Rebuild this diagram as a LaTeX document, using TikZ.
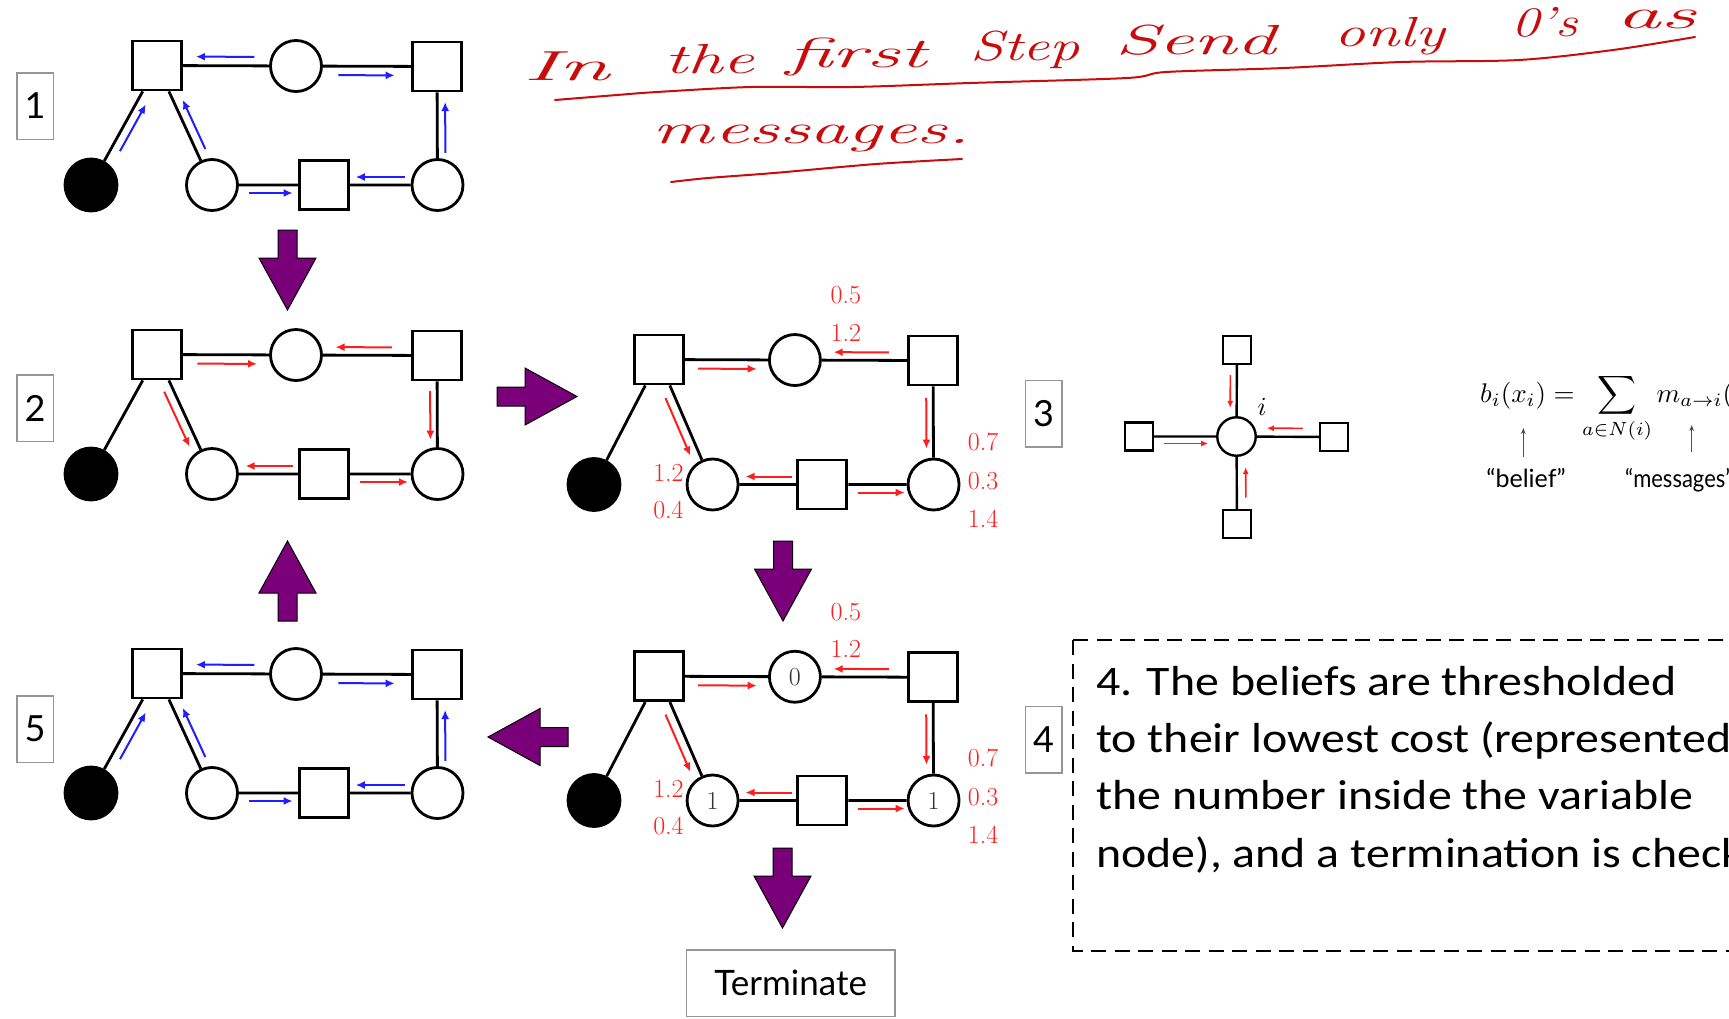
\documentclass[tikz,border=0pt]{standalone}
\usepackage{fontspec}
\usepackage{graphicx}
\usetikzlibrary{arrows.meta,calc}

\newfontfamily\sansfam{Lato}
\newfontfamily\calfam{Carlito}

\definecolor{msgblue}{RGB}{30,30,255}
\definecolor{msgred}{RGB}{255,30,30}
\definecolor{inkred}{RGB}{200,12,12}
\definecolor{steppurple}{RGB}{122,0,122}
\definecolor{framegray}{RGB}{150,150,150}

\newcommand{\fsz}[1]{\fontsize{#1}{#1}\selectfont}

\tikzset{
  fac/.style={draw, line width=2.8pt, fill=white, minimum size=49pt, inner sep=0pt},
  var/.style={circle, draw, line width=2.8pt, fill=white, minimum size=51pt, inner sep=0pt,
    font=\fsz{26}, text=black!80},
  obs/.style={circle, draw, line width=2.8pt, fill=black, minimum size=52pt, inner sep=0pt},
  edge/.style={line width=2.8pt},
  bluemsg/.style={draw=msgblue, line width=2pt, -{Latex[length=9pt,width=8pt]}},
  redmsg/.style={draw=msgred, line width=2pt, -{Latex[length=9pt,width=8pt]}},
  val/.style={text=msgred, font=\fsz{26}, inner sep=0pt},
  numbox/.style={draw=framegray, line width=1.5pt, fill=white, minimum width=36.5pt,
    minimum height=66.5pt, inner sep=0pt, font=\sansfam\fsz{36}},
  sfac/.style={draw, line width=2.4pt, fill=white, minimum size=28pt, inner sep=0pt},
  svar/.style={circle, draw, line width=2.4pt, fill=white, minimum size=38.5pt, inner sep=0pt},
  sedge/.style={line width=2.4pt},
  smsg/.style={draw=msgred, line width=1.6pt, -{Latex[length=7pt,width=6pt]}},
  pointer/.style={draw=black!70, line width=1pt, -{Stealth[length=6pt,width=4.5pt]}},
  hand/.style={anchor=base, inner sep=0pt, text=inkred, font=\itshape\fsz{42}},
  boxline/.style={anchor=base west, inner sep=0pt, font=\calfam\fsz{42}},
  bigarrow/.pic={
    \path[draw=black, line width=1pt, fill=steppurple, line join=miter]
      (0,-9.5) -- (28,-9.5) -- (28,-28.5) -- (80,0) -- (28,28.5) -- (28,9.5) -- (0,9.5) -- cycle;
  }
}

% one factor graph: squares = factors, circles = variables, black = observed
\newcommand{\factorgraph}[4]{%
  \node[fac] (#1A) at (66,-119.5) {};
  \node[var] (#1B) at (205,-119) {#2};
  \node[fac] (#1C) at (346,-118.5) {};
  \node[obs] (#1D) at (0,0) {};
  \node[var] (#1E) at (121,0) {#3};
  \node[fac] (#1F) at (233,0) {};
  \node[var] (#1G) at (346.5,0) {#4};
  \draw[edge] (#1D) -- (#1A) (#1A) -- (#1B) (#1B) -- (#1C) (#1C) -- (#1G)
              (#1G) -- (#1F) (#1F) -- (#1E) (#1E) -- (#1A);
}

% a message drawn beside the edge from #2 to #3, on the right of its travel
\newcommand{\sendmsg}[6]{%
  \draw[#1] ($(#2)!#4!(#3)!#6!-90:(#3)$) -- ($(#2)!#5!(#3)!#6!-90:(#3)$);
}

\newcommand{\bluemsgs}[1]{%
  \sendmsg{bluemsg}{#1B}{#1A}{0.3}{0.72}{9pt}
  \sendmsg{bluemsg}{#1B}{#1C}{0.3}{0.7}{9pt}
  \sendmsg{bluemsg}{#1D}{#1A}{0.32}{0.71}{9pt}
  \sendmsg{bluemsg}{#1E}{#1A}{0.27}{0.68}{9pt}
  \sendmsg{bluemsg}{#1G}{#1C}{0.27}{0.7}{8pt}
  \sendmsg{bluemsg}{#1G}{#1F}{0.29}{0.72}{8pt}
  \sendmsg{bluemsg}{#1E}{#1F}{0.33}{0.72}{8pt}
}

\newcommand{\redmsgs}[1]{%
  \sendmsg{redmsg}{#1A}{#1B}{0.29}{0.72}{9pt}
  \sendmsg{redmsg}{#1C}{#1B}{0.32}{0.72}{8pt}
  \sendmsg{redmsg}{#1A}{#1E}{0.28}{0.74}{9pt}
  \sendmsg{redmsg}{#1C}{#1G}{0.3}{0.71}{7pt}
  \sendmsg{redmsg}{#1F}{#1E}{0.28}{0.7}{8pt}
  \sendmsg{redmsg}{#1F}{#1G}{0.32}{0.74}{8pt}
}

\newcommand{\costlabels}[1]{%
  \node[val] (#1v1) at (257,-181) {0.5};
  \node[val] (#1v2) at (257,-145.3) {1.2};
  \node[val] (#1v3) at (397,-40.6) {0.7};
  \node[val] (#1v4) at (397,-3.3) {0.3};
  \node[val] (#1v5) at (397,33) {1.4};
  \node[val] (#1v6) at (76,-11.5) {1.2};
  \node[val] (#1v7) at (76,24.4) {0.4};
}

\begin{document}
\begin{tikzpicture}[x=1pt,y=-1pt]
\useasboundingbox (0,0) rectangle (1729,1018);
\clip (0,0) rectangle (1729,1018);
\fill[white] (0,0) rectangle (1729,1018);

% ---- handwritten note ----
\node[hand] (w1) at (566.6,80) {\resizebox{86pt}{\height}{In}};
\node[hand] (w2) at (709.6,73) {\resizebox{90pt}{\height}{the}};
\node[hand] (w3) at (856.5,67) {\resizebox{141pt}{\height}{first}};
\node[hand] (w4) at (1025,60) {\resizebox{110pt}{\height}{Step}};
\node[hand] (w5) at (1195.5,54) {\resizebox{161pt}{\height}{Send}};
\node[hand] (w6) at (1389.5,46) {\resizebox{110pt}{\height}{only}};
\node[hand] (w7) at (1544.5,36) {\resizebox{67pt}{\height}{0's}};
\node[hand] (w8) at (1656,28) {\resizebox{80pt}{\height}{as}};
\node[hand] (w9) at (811.5,143) {\resizebox{317pt}{\height}{messages.}};
\draw[inkred, line width=2pt, line cap=round] plot[smooth] coordinates {
  (555,100) (617,95) (657,92) (751,87) (853,87) (970,83) (1127,78) (1166,72)
  (1284,68) (1401,62) (1519,60) (1613,50) (1695,37)};
\draw[inkred, line width=2pt, line cap=round] plot[smooth] coordinates {
  (671,182) (708,178) (774,173) (876,164) (962,159)};

% ---- step arrows ----
\pic[rotate=-90] (s12) at (287.5,230) {bigarrow};
\pic (s23) at (497,396.5) {bigarrow};
\pic[rotate=-90] (s34) at (783,541) {bigarrow};
\pic[rotate=180] (s45) at (568,737) {bigarrow};
\pic[rotate=90] (s52) at (287.5,621) {bigarrow};
\pic[rotate=-90] (s4t) at (782.5,848) {bigarrow};

% ---- step labels ----
\node[numbox] (n1) at (35,106) {1};
\node[numbox] (n2) at (35,408) {2};
\node[numbox] (n3) at (1043.5,413.5) {3};
\node[numbox] (n4) at (1043.5,739.5) {4};
\node[numbox] (n5) at (35,729) {5};

% ---- step 1 ----
\begin{scope}[shift={(91,185)}]
  \factorgraph{p1}{}{}{}
  \bluemsgs{p1}
\end{scope}

% ---- step 2 ----
\begin{scope}[shift={(91,474)}]
  \factorgraph{p2}{}{}{}
  \redmsgs{p2}
\end{scope}

% ---- step 3 ----
\begin{scope}[shift={(594,484.5)}, x=0.98pt, y=-1.046pt]
  \factorgraph{p3}{}{}{}
  \redmsgs{p3}
  \costlabels{p3}
\end{scope}

% ---- step 4 ----
\begin{scope}[shift={(594,800.5)}, x=0.98pt, y=-1.04pt]
  \factorgraph{p4}{0}{1}{1}
  \redmsgs{p4}
  \costlabels{p4}
\end{scope}

% ---- step 5 ----
\begin{scope}[shift={(91,793)}]
  \factorgraph{p5}{}{}{}
  \bluemsgs{p5}
\end{scope}

% ---- termination ----
\node[draw=framegray, line width=1.5pt, minimum width=208.5pt, minimum height=66.5pt,
  inner sep=0pt, font=\sansfam\fsz{35}] (term) at (790.7,983) {Terminate};

% ---- belief at one variable ----
\node[sfac] (sT) at (1237,350) {};
\node[svar] (sO) at (1236.5,436.5) {};
\node[sfac] (sL) at (1139,436.5) {};
\node[sfac] (sR) at (1334,437) {};
\node[sfac] (sB) at (1237,524) {};
\draw[sedge] (sT) -- (sO) (sL) -- (sO) (sR) -- (sO) (sB) -- (sO);
\sendmsg{smsg}{sT}{sO}{0.29}{0.67}{6.5pt}
\sendmsg{smsg}{sR}{sO}{0.32}{0.69}{8.5pt}
\sendmsg{smsg}{sL}{sO}{0.26}{0.71}{7pt}
\sendmsg{smsg}{sB}{sO}{0.3}{0.65}{9pt}
\node[inner sep=0pt, font=\fsz{10}] (si) at (1262,407) {\scalebox{2.6}{$i$}};

\node[anchor=base west, inner sep=0pt, font=\fsz{10}] (eq) at (1480,402)
  {\scalebox{2.7}{$b_i(x_i) = \displaystyle\sum_{a\in N(i)} m_{a\to i}($}};
\node[anchor=base, inner sep=0pt, font=\sansfam\fsz{25}] (bel) at (1526,487) {“belief”};
\node[anchor=base west, inner sep=0pt, font=\sansfam\fsz{25}] (mes) at (1625,487)
  {\scalebox{0.88}[1]{“messages”}};
\coordinate (belfoot) at (1523.3,457);
\coordinate (belhead) at (1523.3,428);
\coordinate (mesfoot) at (1691.7,452);
\coordinate (meshead) at (1691.7,425);
\draw[pointer] (belfoot) -- (belhead);
\draw[pointer] (mesfoot) -- (meshead);

% ---- explanation of step 4 ----
\draw[line width=2.5pt, dash pattern=on 15pt off 8.5pt] (1073,640) rectangle (1780,951);
\node[boxline] (t1) at (1096,695) {\scalebox{1.14}[1]{4. The beliefs are thresholded}};
\node[boxline] (t2) at (1096,752) {\scalebox{1.14}[1]{to their lowest cost (represented}};
\node[boxline] (t3) at (1096,809) {\scalebox{1.14}[1]{the number inside the variable}};
\node[boxline] (t4) at (1096,867) {\scalebox{1.14}[1]{node), and a termination is check}};
\end{tikzpicture}
\end{document}
